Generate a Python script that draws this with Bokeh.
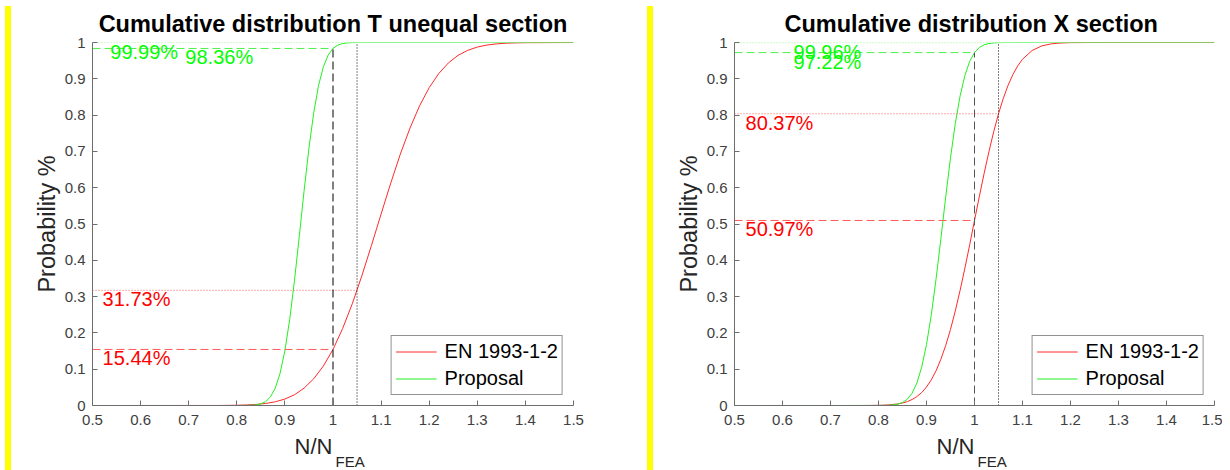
from bokeh.plotting import figure
from bokeh.models import Range1d, Label, FixedTicker, Div, Spacer, Title
from bokeh.layouts import row
from bokeh.embed import file_html
from bokeh.resources import INLINE

FONT = "Liberation Sans"

# ---------------- tick data ----------------
x_ticks = [0.5, 0.6, 0.7, 0.8, 0.9, 1.0, 1.1, 1.2, 1.3, 1.4, 1.5]
x_tick_labels = ["0.5", "0.6", "0.7", "0.8", "0.9", "1", "1.1", "1.2", "1.3", "1.4", "1.5"]
y_ticks = [0.0, 0.1, 0.2, 0.3, 0.4, 0.5, 0.6, 0.7, 0.8, 0.9, 1.0]
y_tick_labels = ["0", "0.1", "0.2", "0.3", "0.4", "0.5", "0.6", "0.7", "0.8", "0.9", "1"]

series_names = ["EN 1993-1-2", "Proposal"]

# ---------------- T unequal section ----------------
t_en_x = [0.5, 0.76, 0.78, 0.80, 0.82, 0.84, 0.86, 0.88, 0.90, 0.92, 0.94, 0.96, 0.98,
          1.00, 1.02, 1.04, 1.06, 1.08, 1.10, 1.12, 1.14, 1.16, 1.18, 1.20, 1.22, 1.24,
          1.26, 1.28, 1.30, 1.32, 1.34, 1.36, 1.38, 1.40, 1.5]
t_en_p = [0.0, 0.0001, 0.0003, 0.0007, 0.0015, 0.0030, 0.0056, 0.0102, 0.0178, 0.0297,
          0.0479, 0.0737, 0.1089, 0.1544, 0.2119, 0.2801, 0.3573, 0.4412, 0.5275, 0.6125,
          0.6925, 0.7640, 0.8256, 0.8756, 0.9147, 0.9439, 0.9646, 0.9784, 0.9874, 0.9930,
          0.9962, 0.9981, 0.9990, 0.9995, 1.0]
t_pr_x = [0.5, 0.80, 0.82, 0.83, 0.84, 0.85, 0.86, 0.87, 0.88, 0.89, 0.90, 0.91, 0.92,
          0.93, 0.94, 0.95, 0.96, 0.97, 0.98, 0.99, 1.00, 1.01, 1.02, 1.03, 1.04, 1.05,
          1.07, 1.5]
t_pr_p = [0.0, 0.0, 0.0002, 0.0006, 0.0017, 0.0045, 0.0107, 0.0238, 0.0481, 0.0888,
          0.1511, 0.2372, 0.3450, 0.4674, 0.5924, 0.7089, 0.8070, 0.8818, 0.9332, 0.9654,
          0.9836, 0.9928, 0.9971, 0.9989, 0.9997, 0.9999, 1.0, 1.0]
t_marks = {"en_1": 0.1544, "en_105": 0.3173, "pr_1": 0.9836, "pr_105": 0.9999}
t_texts = {"en_1": "15.44%", "en_105": "31.73%", "pr_1": "98.36%", "pr_105": "99.99%"}
t_text_x = {"en_1": 0.521, "en_105": 0.521, "pr_1": 0.693, "pr_105": 0.537}

# ---------------- X section ----------------
x_en_x = [0.5, 0.76, 0.78, 0.80, 0.82, 0.84, 0.85, 0.86, 0.87, 0.88, 0.89, 0.90, 0.91,
          0.92, 0.93, 0.94, 0.95, 0.96, 0.97, 0.98, 0.99, 1.00, 1.01, 1.02, 1.03, 1.04,
          1.05, 1.06, 1.07, 1.08, 1.09, 1.10, 1.12, 1.14, 1.16, 1.18, 1.20, 1.24, 1.5]
x_en_p = [0.0, 0.0, 0.0001, 0.0005, 0.0015, 0.0043, 0.0068, 0.0107, 0.0165, 0.0246,
          0.0356, 0.0509, 0.0707, 0.0958, 0.1275, 0.1653, 0.2097, 0.2607, 0.3172, 0.3784,
          0.4428, 0.5097, 0.5754, 0.6389, 0.6990, 0.7541, 0.8037, 0.8461, 0.8822, 0.9117,
          0.9355, 0.9539, 0.9780, 0.9905, 0.9963, 0.9987, 0.9996, 1.0, 1.0]
x_pr_x = [0.5, 0.80, 0.81, 0.82, 0.83, 0.84, 0.85, 0.86, 0.87, 0.88, 0.89, 0.90, 0.91,
          0.92, 0.93, 0.94, 0.95, 0.96, 0.97, 0.98, 0.99, 1.00, 1.01, 1.02, 1.03, 1.04,
          1.05, 1.07, 1.5]
x_pr_p = [0.0, 0.0001, 0.0002, 0.0006, 0.0015, 0.0036, 0.0081, 0.0173, 0.0339, 0.0620,
          0.1056, 0.1678, 0.2498, 0.3491, 0.4598, 0.5742, 0.6825, 0.7770, 0.8528, 0.9093,
          0.9479, 0.9722, 0.9862, 0.9936, 0.9972, 0.9989, 0.9996, 1.0, 1.0]
x_marks = {"en_1": 0.5097, "en_105": 0.8037, "pr_1": 0.9722, "pr_105": 0.9996}
x_texts = {"en_1": "50.97%", "en_105": "80.37%", "pr_1": "97.22%", "pr_105": "99.96%"}
x_text_x = {"en_1": 0.523, "en_105": 0.523, "pr_1": 0.623, "pr_105": 0.623}

x_ref = [1.0, 1.05]   # N/N_FEA levels checked
x_lo = 0.5

RED = "#ff2a2a"
GREEN = "#22f022"
RED_L = "#ff5a5a"
GREEN_L = "#4cf04c"


def make_panel(title, en_x, en_p, pr_x, pr_p, marks, texts, text_x, vcol,
               border_left, border_right, frame_w):
    p = figure(frame_width=frame_w, frame_height=363,
               x_range=Range1d(0.5, 1.5), y_range=Range1d(0, 1),
               output_backend="svg", toolbar_location=None,
               min_border_left=border_left, min_border_right=border_right,
               min_border_top=42, min_border_bottom=65)
    p.outline_line_color = None
    p.grid.visible = False
    p.background_fill_color = "white"
    p.border_fill_color = "white"

    p.title.text = title
    p.title.align = "center"
    p.title.text_font = FONT
    p.title.text_font_size = "23.5px"
    p.title.text_font_style = "bold"
    p.title.text_color = "#000000"
    p.title.standoff = 12

    for ax in (p.xaxis[0], p.yaxis[0]):
        ax.axis_line_color = "#6e6e6e"
        ax.major_tick_line_color = "#6e6e6e"
        ax.major_tick_in = 5
        ax.major_tick_out = 0
        ax.minor_tick_line_color = None
        ax.major_label_text_font = FONT
        ax.major_label_text_font_size = "15px"
        ax.major_label_text_color = "#404040"
    p.xaxis[0].major_label_standoff = 9
    p.yaxis[0].major_label_standoff = 7
    p.xaxis[0].ticker = FixedTicker(ticks=x_ticks)
    p.xaxis[0].major_label_overrides = {t: s for t, s in zip(x_ticks, x_tick_labels)}
    p.yaxis[0].ticker = FixedTicker(ticks=y_ticks)
    p.yaxis[0].major_label_overrides = {t: s for t, s in zip(y_ticks, y_tick_labels)}
    p.yaxis[0].axis_label = "Probability %"
    p.yaxis[0].axis_label_text_font = FONT
    p.yaxis[0].axis_label_text_font_size = "23.5px"
    p.yaxis[0].axis_label_text_font_style = "normal"
    p.yaxis[0].axis_label_text_color = "#262626"
    p.yaxis[0].axis_label_standoff = 2

    # x axis label N/N with subscript FEA
    p.add_layout(Title(text="N/N", align="left", offset=202, text_font=FONT,
                       text_font_size="22px", text_font_style="normal",
                       text_color="#262626", standoff=9), "below")
    p.add_layout(Title(text="FEA", align="left", offset=243, text_font=FONT,
                       text_font_size="15px", text_font_style="normal",
                       text_color="#262626", vertical_align="top", standoff=-22), "below")

    # curves
    p.line(en_x, en_p, line_color=RED, line_width=1, legend_label=series_names[0])
    p.line(pr_x, pr_p, line_color=GREEN, line_width=1, legend_label=series_names[1])

    # horizontal reference lines
    p.line([x_lo, x_ref[0]], [marks["en_1"], marks["en_1"]], line_color=RED_L,
           line_width=1, line_dash="8 4")
    p.line([x_lo, x_ref[1]], [marks["en_105"], marks["en_105"]], line_color=RED_L,
           line_width=1, line_dash="1 2")
    p.line([x_lo, x_ref[0]], [marks["pr_1"], marks["pr_1"]], line_color=GREEN_L,
           line_width=1, line_dash="8 4")
    p.line([x_lo, x_ref[1]], [marks["pr_105"], marks["pr_105"]], line_color=GREEN_L,
           line_width=1, line_dash="1 2")
    # vertical reference lines
    top1 = max(marks["en_1"], marks["pr_1"])
    top2 = max(marks["en_105"], marks["pr_105"])
    p.line([x_ref[0], x_ref[0]], [0, top1], line_color=vcol, line_width=1, line_dash="8 4")
    p.line([x_ref[1], x_ref[1]], [0, top2], line_color="#000000", line_width=1,
           line_dash="1 2")

    # percentage texts
    for key in ("en_1", "en_105"):
        p.add_layout(Label(x=text_x[key], y=marks[key], text=texts[key], text_color="#ff0000",
                           text_font=FONT, text_font_size="20px", text_align="left",
                           text_baseline="top", y_offset=2))
    for key in ("pr_105", "pr_1"):
        p.add_layout(Label(x=text_x[key], y=marks[key], text=texts[key], text_color="#00ff00",
                           text_font=FONT, text_font_size="20px", text_align="left",
                           text_baseline="top", y_offset=2))

    lg = p.legend[0]
    lg.location = "bottom_right"
    lg.margin = 10
    lg.padding = 4
    lg.spacing = 4
    lg.glyph_width = 41
    lg.glyph_height = 23
    lg.label_height = 23
    lg.label_standoff = 8
    lg.label_text_font = FONT
    lg.label_text_font_size = "20px"
    lg.label_text_color = "#000000"
    lg.border_line_color = "#262626"
    lg.border_line_width = 1
    lg.background_fill_color = "white"
    lg.background_fill_alpha = 1.0
    return p


def bar(w):
    return Div(text='<div style="width:%dpx;height:464px;margin-top:6px;'
                    'background:#ffff00"></div>' % w,
               width=w, height=470, margin=0)


p1 = make_panel("Cumulative distribution T unequal section", t_en_x, t_en_p, t_pr_x, t_pr_p,
                t_marks, t_texts, t_text_x, "#000000", 81, 74, 481)
p2 = make_panel("Cumulative distribution X  section", x_en_x, x_en_p, x_pr_x, x_pr_p,
                x_marks, x_texts, x_text_x, "#555555", 81, 8, 480)

layout = row(Spacer(width=5, height=470, margin=0), bar(6), p1, bar(6), p2, spacing=0)
open("out.html", "w").write(file_html(layout, INLINE))
